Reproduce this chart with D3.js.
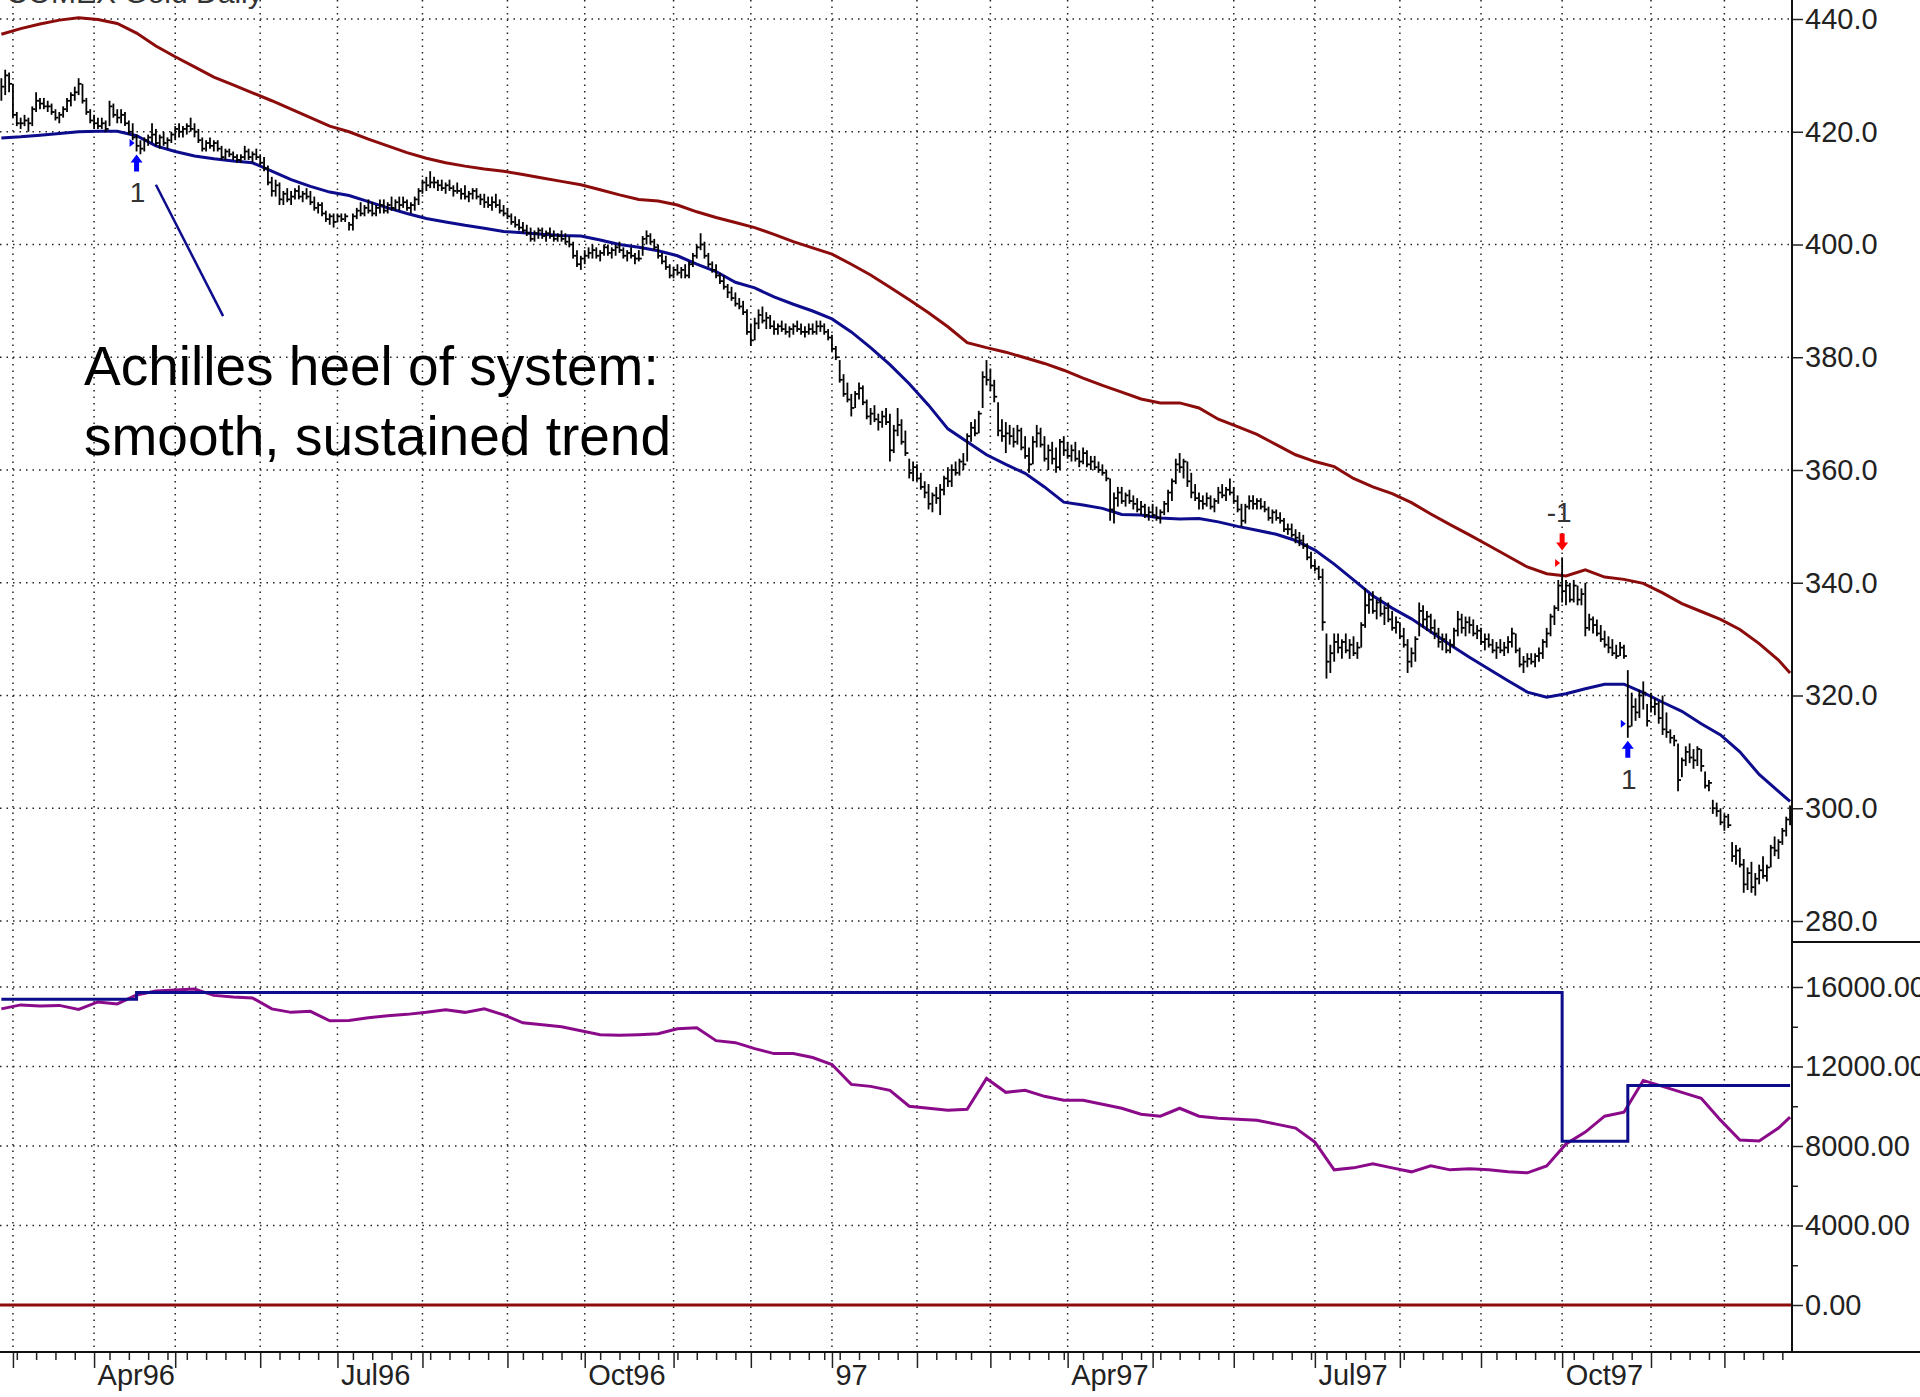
<!DOCTYPE html>
<html>
<head>
<meta charset="utf-8">
<script src="https://cdn.jsdelivr.net/npm/d3@7"></script>
<style>
  body { margin: 0; background: #fff; }
  svg { display: block; }
</style>
</head>
<body>
<script>
// daily bars, one entry per trading day from 27 Feb 1996
const highs = [
  429.5,431,430.5,428.5,423.5,422.5,423,422.5,424.5,427,
  426,426,425.5,425,424,423.5,424.5,426,427,428,
  429.5,428.5,426,424,423,422.5,422.5,422,425.5,425,
  424,424,423.5,422,421.5,419.5,418.5,419,419.5,421.5,
  420.5,419.5,420,419,420,421,421.5,421,421.5,422.5,
  421.5,420.5,419,418.5,419,418.5,418.5,417.5,417,417,
  416.5,416,416,417.5,417,416.5,417,416,415.5,414,
  412,411.5,411,409.5,410,409.5,410,410.5,409.5,410,
  409.5,408.5,407.5,407.5,406,405.5,405.5,405.5,405.5,405.5,
  404,405.5,406.5,407.5,407,408,407.5,407,408,408,
  407.5,408.5,408,408.5,408.5,408,407.5,408.5,410,411.5,
  412,413,412,411.5,411.5,411,411.5,410.5,411,410,
  410.5,409.5,410,410,409,409,408.5,408.5,409,408,
  407,406.5,405.5,405,404.5,404,403.5,403,402.5,403,
  403,402.5,403,402.5,402,402.5,402,401.5,400.5,399,
  398,399,399.5,400,399.5,399,400,400,399.5,400,
  400.5,399.5,399,399.5,398.5,399,401.5,402.5,402,401,
  400,398.5,398,396.5,396,396.5,396,396.5,397,398.5,
  400,402,400.5,398.5,397,396.5,395,394.5,393,392.5,
  391.5,390.5,390,388.5,386,387,388.5,389,388,387.5,
  386.5,386,386.5,386,385.5,386,386.5,386,385.5,386,
  386,386.5,386.5,386,385,384,382,379.5,377,375.5,
  373.5,374,375.5,375,372.5,371,371.5,370,370.5,371,
  370,368,371,369,367,362,361.5,361,359.5,358,
  357.5,356,357,357.5,359,360.5,361,361.5,362,363,
  366.5,368.5,369,370.5,377.5,379.5,378,376,372,369,
  368.5,368,367.5,368,367.5,366,364,366,368,367.5,
  366,364.5,365,364,365.5,366,365,364.5,365,363.5,
  364,363.5,362.5,362.5,361.5,361,360,358.5,356,357,
  357,356,356.5,355.5,355,354.5,354,353.5,354,353.5,
  353,354.5,356.5,358.5,362,363,362,361.5,359.5,357.5,
  356,355.5,356,355.5,355,357,357.5,357,358.5,357,
  355.5,354,354,355.5,355.5,355,355,354.5,353.5,353,
  353,352.5,351.5,350.5,350.5,349.5,349,348.5,347,345.5,
  344,343,342.5,331,329,331,331,330,331,330,
  330.5,329.5,333,339,338,338.5,337,337.5,336,336.5,
  335,334,333,332,330,328.5,330.5,336.5,336,335,
  334.5,333.5,332,331,331,330,332,335,334.5,334,
  334,333.5,332.5,332,331,331,330,329.5,330,329.5,
  330.5,332,331,328.5,327,327.5,327.5,327.5,328.5,330,
  332,334.5,336,340.5,344.5,340.5,340,340.5,339.5,339,
  340,334.5,334,333.5,332.5,331.5,330.5,330,329,329.5,
  329,324.5,320.5,319.5,321,322.5,318.5,320.5,319.5,319,
  320,317,314,313,311.5,309,311,311.5,310.5,311,
  310.5,306.5,305,301.5,301,300,299,299,294,293.5,
  293,291,289.5,290.5,288.5,290,291.5,290,293.5,295,
  294.5,296.5,298.5,300.5
];
const lows = [
  425.5,426.5,427,422.5,421,420.5,421,420,421,423.5,
  424,424,423.5,423,422,421.5,422.5,423.5,424.5,425.5,
  426.5,425,423,421.5,420.5,420.5,420.5,420,421,422.5,
  421.5,421.5,421,419.5,418.5,416.5,416,416.5,417.5,418,
  417.5,417,417.5,417,418,418.5,419,419,419.5,420,
  419,418,416.5,416.5,417,416.5,416.5,415,415,415.5,
  415,414.5,414.5,415,415,414.5,415,414,413,410.5,
  408.5,408.5,407,407,407.5,407,408,408,407.5,408,
  407,406,405.5,405,404,403.5,403,404,404,404,
  402.5,402.5,404.5,405,405,405.5,405,405,405.5,405.5,
  405.5,406,406,406,406.5,406,405.5,406,407,409,
  409.5,410,410,409.5,409.5,409,409.5,408.5,409,408,
  408,407.5,408,408,407,406.5,406.5,406,406.5,405.5,
  405,404.5,403.5,403,402.5,402,401.5,400.5,400.5,401,
  401,400.5,401,400.5,400.5,400.5,400,399.5,397.5,396,
  395.5,396.5,397.5,397.5,397.5,397,398,398,397.5,398,
  398.5,397.5,397,397.5,396.5,397,398,400,400,399,
  397.5,396.5,395.5,394,394,394.5,394,394,394,396,
  397.5,399,397.5,396,395,394,393,392,390.5,390,
  389,388.5,387.5,384,382,383,385,386,385,385,
  384,384,384.5,384,383.5,384,384.5,384,383.5,384,
  384,384,384.5,384,383,381,379.5,375.5,373,372,
  369.5,371,372.5,371.5,369,368,368.5,367,367.5,368,
  361.5,363,366,364.5,362.5,358.5,358,358,356.5,355,
  353,352.5,354,352,355.5,357,357,359,359,360,
  361.5,365,366,366.5,371,375,374,372,366,365,
  363,364.5,364,364.5,363.5,362,359.5,361,364,364,
  361.5,360,361,359.5,360,362.5,362,361.5,361.5,360.5,
  361,360.5,360,360,359.5,359,358,351,350.5,353.5,
  354,353.5,354,353,352.5,352,351.5,351,351.5,351,
  350.5,352,352.5,354.5,357.5,359.5,358.5,357,355,354.5,
  353,353,353.5,353,352.5,354,355,354.5,355.5,354,
  352.5,350,350.5,353,353,353,353,352.5,351,350.5,
  351,350.5,349,348.5,348,347,346.5,346,344,342.5,
  342,340.5,331.5,323,324,326,327.5,326.5,327.5,326.5,
  327,326.5,328.5,332,334.5,334.5,333.5,334,332.5,333,
  331.5,331,330,328.5,324,325,326,330.5,332,331.5,
  331,330,328.5,328,327.5,327.5,328.5,330.5,331,330.5,
  331,330.5,330,329,328,328.5,327.5,326.5,327.5,327,
  327.5,328.5,327.5,325,324,325,325.5,325,326,326.5,
  328.5,330.5,332.5,335,336.5,336,336.5,336.5,336,336,
  330.5,331.5,331,330.5,329.5,328.5,327.5,327,326.5,327,
  326.5,312.5,314.5,315.5,316,317.5,314.5,317,316.5,315,
  313,312.5,311.5,311,303,305.5,307.5,308,307,307.5,
  306.5,303.5,303,299,298.5,297,296,296.5,290.5,290,
  289.5,285,285.5,285,284.5,286.5,287.5,287,289.5,291.5,
  291,293.5,295,297
];
const closes = [
  428,430,428.5,423,421.5,421.5,422,421.5,424,425.5,
  425,424.5,424.5,423.5,422.5,423,424,425.5,426.5,427,
  428.5,425.5,423.5,422,421.5,421,421.5,420.5,424.5,423,
  422.5,423,421.5,420,419,417.5,417,418.5,419,419.5,
  418,419,418,418.5,419.5,420.5,420,420.5,421,420.5,
  420,418.5,417,418,417.5,418,417,415.5,416.5,416,
  415.5,415,415.5,416.5,415.5,416,415.5,414.5,413.5,411,
  409.5,410.5,408,409,408,408.5,409.5,408.5,409,408.5,
  407.5,406.5,407,405.5,404.5,405,404,405,404.5,405,
  403.5,405,406,405.5,406.5,406,405.5,406.5,407,406,
  407,406.5,407.5,407,407.5,406.5,407,408,409.5,411,
  410.5,411,411,410.5,410,410.5,410,409.5,409.5,409,
  408.5,409,409.5,408.5,408,407.5,407,407.5,407,406,
  405.5,405,404,403.5,403,402.5,402,401,402,402.5,
  401.5,402,401.5,401,401.5,401,400.5,400,398,396.5,
  397.5,398,398.5,399,398,398.5,399.5,398.5,399,399.5,
  399,398,398.5,398,397.5,397.5,401,401.5,400.5,399.5,
  398,397,396,394.5,395.5,395,395.5,394.5,396.5,398,
  399.5,400,398,396.5,395.5,394.5,393.5,392.5,391.5,390.5,
  389.5,389,388,384.5,383,386,387.5,386.5,387,385.5,
  385,385.5,385,384.5,385,385.5,385,384.5,384.5,385,
  384.5,385.5,385.5,384.5,383.5,381.5,380,376,373.5,372.5,
  371,373.5,374.5,372,369.5,370,369,368.5,369.5,368.5,
  363.5,367,368,365,363,359.5,360.5,358.5,357,356,
  354,355.5,355,356.5,358.5,358,360,359.5,361.5,361,
  366,367.5,366.5,370,376.5,376,375,373,367,366,
  366.5,366,365,367,364,362.5,361,365,366.5,364.5,
  362,363.5,362,360.5,365,363.5,362.5,363.5,362,361.5,
  363,361,361.5,360.5,360,359.5,358.5,353,355,356,
  354.5,355.5,354.5,354,353,353.5,352,352.5,352,351.5,
  352.5,354,356,358,361,360.5,361.5,358,356,355,
  354.5,354,355,353.5,354.5,356,355.5,356.5,356,354.5,
  353,351,353.5,354.5,354,354.5,353.5,353,351.5,352.5,
  351.5,351,349.5,349.5,348.5,348,347.5,346.5,344.5,343,
  342.5,341,333,326,327.5,329.5,328.5,329.5,328,329,
  327.5,328.5,332.5,336,337,335,336.5,334.5,335.5,333.5,
  332,333,330.5,329,326,327.5,330,335,333.5,334,
  332,331,329.5,330,328,329,331.5,333.5,332,333,
  332.5,331,331.5,329.5,330,329,328,328.5,328,328.5,
  329.5,331,328,325.5,326,326.5,326,327,327.5,329.5,
  331,334,335.5,339.5,338.5,339.5,337,339.5,337,338,
  332,333.5,332.5,331,330,329,328.5,327.5,327,328.5,
  327,314.5,318,317,320,320.5,315.5,318,318.5,316,
  314,313.5,312.5,312,305,308.5,310,309,308.5,310.5,
  307.5,304,304.5,300,299.5,297.5,298.5,297,291.5,292.5,
  290,286.5,288.5,286,287.5,289,288,289.5,293,292.5,
  294,296,298,300
];

// the smooth lines were read every 5th trading day (plus the last one)
const upperBand = [
  437.3,438.3,439.1,439.8,440.2,439.9,439.2,437.5,435.2,433.3,
  431.5,429.7,428.3,426.9,425.5,424,422.5,421,420,418.7,
  417.5,416.3,415.3,414.5,413.9,413.4,413,412.4,411.8,411.2,
  410.6,409.7,408.8,408,407.7,407,405.8,404.8,403.9,403,
  401.8,400.5,399.4,398.3,396.5,394.6,392.4,390.2,387.9,385.4,
  382.6,381.7,380.9,379.9,378.9,377.7,376.3,375,373.8,372.6,
  371.9,371.9,371,369,367.7,366.3,364.5,362.7,361.5,360.6,
  358.5,357,355.8,354.2,352.2,350.3,348.5,346.6,344.7,342.8,
  341.6,341.2,342.3,341,340.6,339.9,338.2,336.3,334.9,333.5,
  331.7,329.2,326.3,324
];
const lowerBand = [
  418.9,419.1,419.4,419.7,420,420.1,420.1,419.3,417.5,416.5,
  415.7,415.2,414.8,414.5,413,411.5,410.3,409.3,408.7,407.6,
  406.5,405.5,404.6,404,403.4,402.9,402.3,402.1,401.8,401.6,
  401.5,400.8,400,399.5,398.9,398,396.5,395.2,393.3,392.3,
  390.7,389.4,388.2,386.8,384.5,381.7,378.7,375.3,371.5,367.3,
  365,362.7,361,359.4,357,354.3,353.8,353.2,352.1,352,
  351.5,351.3,351.4,350.8,350,349.3,348.6,347.5,345.8,343.3,
  340.5,337.7,335.5,333.6,331.3,329,326.8,324.7,322.6,320.6,
  319.7,320.3,321.2,322,322,320.5,318.8,317.2,315,313,
  310,306,303,301.2
];
const oscillator = [
  14900,15100,15050,15075,14874,15250,15150,15600,15800,15850,
  15900,15578,15500,15450,14900,14724,14774,14300,14320,14450,
  14550,14623,14724,14850,14724,14900,14600,14200,14100,14000,
  13800,13600,13570,13600,13650,13900,13950,13300,13200,12900,
  12650,12650,12450,12100,11100,11000,10800,10000,9900,9800,
  9850,11400,10700,10800,10500,10300,10300,10100,9900,9600,
  9500,9900,9500,9400,9350,9300,9100,8900,8200,6800,
  6900,7100,6900,6700,7000,6800,6850,6800,6700,6650,
  7000,8100,8700,9500,9700,11300,11000,10700,10400,9300,
  8300,8250,8900,9450
];

const equityDays = [0, 35, 404, 421, 463];
const equityValues = [15380, 15720, 8240, 11050, 11050];

const signalDays = [35, 404, 421];
const signalDirs = [1, -1, 1];
const signalPrices = [418, 343.5, 315];

const holidays = ["1996-04-05","1996-05-27","1996-07-04","1996-09-02","1996-11-28","1996-12-25",
  "1997-01-01","1997-02-17","1997-03-28","1997-05-26","1997-07-04","1997-09-01","1997-11-27"];

const priceTicks = [280, 300, 320, 340, 360, 380, 400, 420, 440];
const lowerTicks = [0, 4000, 8000, 12000, 16000];
const lowerMinor = [2000, 6000, 10000, 14000];

const FONT = '"Liberation Sans", Arial, sans-serif';
const w = 1920, h = 1397;
const plotRight = 1792, splitY = 942, axisY = 1352;

const dayFmt = d3.utcFormat("%Y-%m-%d");
const days = d3.utcDay.range(new Date(Date.UTC(1996, 1, 27)), new Date(Date.UTC(1997, 11, 25)))
  .filter(d => d.getUTCDay() % 6 !== 0 && !holidays.includes(dayFmt(d)));

const sampleDays = d3.range(0, days.length, 5).concat([days.length - 1]);

const x = d3.scaleLinear().domain([-0.35, days.length - 0.5]).range([0, plotRight]);
const y = d3.scaleLinear().domain([280, 440]).range([921, 19]);
const yl = d3.scaleLinear().domain([0, 16000]).range([1305, 987]);

const monthIdx = d3.range(1, days.length).filter(i => days[i].getUTCMonth() !== days[i - 1].getUTCMonth());
const weekIdx = d3.range(1, days.length).filter(i => days[i].getUTCDay() < days[i - 1].getUTCDay() && !monthIdx.includes(i));

const svg = d3.select("body").append("svg")
  .attr("width", w)
  .attr("height", h)
  .attr("font-family", FONT);

svg.append("rect").attr("width", w).attr("height", h).attr("fill", "#fff");

// grid
const grid = svg.append("g")
  .attr("stroke", "#222")
  .attr("stroke-width", 1.5)
  .attr("stroke-dasharray", "1.5,5");

grid.selectAll(".vg")
  .data(monthIdx)
  .enter()
  .append("line")
  .attr("x1", d => x(d)).attr("x2", d => x(d))
  .attr("y1", 0).attr("y2", axisY);

grid.selectAll(".hg")
  .data(priceTicks.map(v => y(v)).concat(lowerTicks.map(v => yl(v))))
  .enter()
  .append("line")
  .attr("x1", 0).attr("x2", plotRight)
  .attr("y1", d => d).attr("y2", d => d);

svg.append("text")
  .attr("x", 6).attr("y", 3)
  .attr("font-size", 30)
  .attr("fill", "#333")
  .text("COMEX Gold Daily");

const clip = svg.append("clipPath").attr("id", "pc");
clip.append("rect").attr("x", 0).attr("y", 0).attr("width", plotRight).attr("height", splitY);

const price = svg.append("g").attr("clip-path", "url(#pc)");

const bandLine = d3.line()
  .x((d, i) => x(sampleDays[i]))
  .y(d => y(d));

price.append("path")
  .datum(upperBand)
  .attr("d", bandLine)
  .attr("fill", "none")
  .attr("stroke", "#8c0c0c")
  .attr("stroke-width", 3);

price.append("path")
  .datum(lowerBand)
  .attr("d", bandLine)
  .attr("fill", "none")
  .attr("stroke", "#0c0c8c")
  .attr("stroke-width", 3);

const bars = price.append("g").attr("stroke", "#000").attr("stroke-width", 1.8);

bars.selectAll(".hl")
  .data(highs)
  .enter()
  .append("line")
  .attr("x1", (d, i) => x(i)).attr("x2", (d, i) => x(i))
  .attr("y1", d => y(d))
  .attr("y2", (d, i) => y(lows[i]));

bars.selectAll(".cl")
  .data(closes)
  .enter()
  .append("line")
  .attr("x1", (d, i) => x(i)).attr("x2", (d, i) => x(i) + 3)
  .attr("y1", d => y(d)).attr("y2", d => y(d));

// signals
signalDays.forEach((day, k) => {
  const dir = signalDirs[k];
  const cx = x(day);
  const color = dir > 0 ? "#0000ff" : "#ff0000";
  const tip = dir > 0 ? y(lows[day]) + 3 : y(highs[day]) - 7;
  const g = svg.append("g").attr("transform", `translate(${cx},${tip}) scale(1,${dir})`);
  g.append("path")
    .attr("d", "M0,0 L-6,8 L-2.5,8 L-2.5,17 L2.5,17 L2.5,8 L6,8 Z")
    .attr("fill", color);

  const my = y(signalPrices[k]);
  svg.append("path")
    .attr("d", `M${cx - 7},${my - 4} L${cx - 2},${my} L${cx - 7},${my + 4} Z`)
    .attr("fill", color);

  svg.append("text")
    .attr("x", dir > 0 ? cx + 1 : cx - 3)
    .attr("y", dir > 0 ? tip + 48 : tip - 28)
    .attr("text-anchor", "middle")
    .attr("font-size", 28)
    .attr("fill", "#333")
    .text(dir > 0 ? "1" : "-1");
});

// annotation
svg.append("line")
  .attr("x1", x(40)).attr("y1", y(410.6))
  .attr("x2", x(57.4)).attr("y2", y(387.3))
  .attr("stroke", "#0c0c8c")
  .attr("stroke-width", 2.5);

const note = svg.append("text")
  .attr("font-size", 55)
  .attr("fill", "#000");
note.append("tspan").attr("x", 84).attr("y", 385).text("Achilles heel of system:");
note.append("tspan").attr("x", 84).attr("y", 455).text("smooth, sustained trend");

// lower panel
const lower = svg.append("g");

lower.append("line")
  .attr("x1", 0).attr("x2", plotRight)
  .attr("y1", yl(0)).attr("y2", yl(0))
  .attr("stroke", "#8c0c0c")
  .attr("stroke-width", 3);

lower.append("path")
  .datum(oscillator)
  .attr("d", d3.line().x((d, i) => x(sampleDays[i])).y(d => yl(d)))
  .attr("fill", "none")
  .attr("stroke", "#8a0a8a")
  .attr("stroke-width", 3);

lower.append("path")
  .datum(equityValues)
  .attr("d", d3.line().curve(d3.curveStepAfter).x((d, i) => x(equityDays[i])).y(d => yl(d)))
  .attr("fill", "none")
  .attr("stroke", "#0c0c8c")
  .attr("stroke-width", 3);

// axes
const styleAxis = g => {
  g.attr("font-size", 29).attr("font-family", FONT);
  g.select(".domain").remove();
  g.selectAll("line").attr("stroke", "#222").attr("stroke-width", 1.5);
  g.selectAll("text").attr("fill", "#222");
};

svg.append("g")
  .attr("transform", `translate(${plotRight},0)`)
  .call(d3.axisRight(y).tickValues(priceTicks).tickSize(11).tickPadding(2).tickFormat(d3.format(".1f")))
  .call(styleAxis);

svg.append("g")
  .attr("transform", `translate(${plotRight},0)`)
  .call(d3.axisRight(yl).tickValues(lowerTicks).tickSize(11).tickPadding(2).tickFormat(d3.format(".2f")))
  .call(styleAxis);

svg.append("g")
  .attr("transform", `translate(${plotRight},0)`)
  .call(d3.axisRight(yl).tickValues(lowerMinor).tickSize(6).tickFormat(""))
  .call(styleAxis);

const monthLabel = i => {
  const m = days[i].getUTCMonth();
  if (m % 3 !== 0) return "";
  return m === 0 ? d3.utcFormat("%y")(days[i]) : d3.utcFormat("%b%y")(days[i]);
};

svg.append("g")
  .attr("transform", `translate(0,${axisY})`)
  .call(d3.axisBottom(x).tickValues(monthIdx).tickSize(16).tickFormat(monthLabel))
  .call(styleAxis)
  .selectAll("text")
  .attr("text-anchor", "start")
  .attr("x", 3)
  .attr("y", 33)
  .attr("dy", 0);

svg.append("g")
  .attr("transform", `translate(0,${axisY})`)
  .call(d3.axisBottom(x).tickValues(weekIdx).tickSize(8).tickFormat(""))
  .call(styleAxis);

const frame = svg.append("g").attr("stroke", "#111").attr("stroke-width", 2);
frame.append("line").attr("x1", plotRight).attr("x2", plotRight).attr("y1", 0).attr("y2", axisY);
frame.append("line").attr("x1", 0).attr("x2", w).attr("y1", axisY).attr("y2", axisY);
frame.append("line").attr("x1", plotRight).attr("x2", w).attr("y1", splitY).attr("y2", splitY);
</script>
</body>
</html>
